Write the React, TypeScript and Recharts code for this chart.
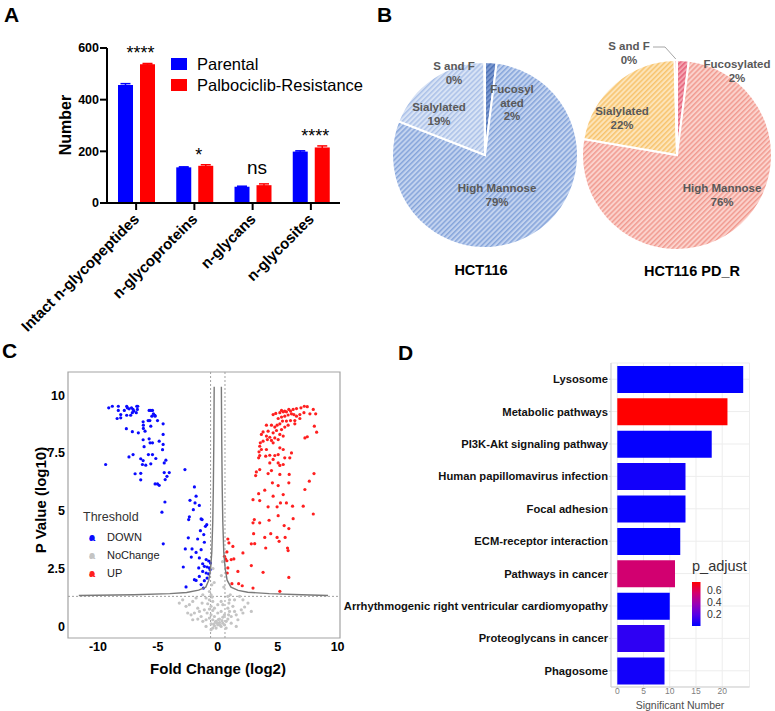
import React from "react"
import {
  BarChart,
  Bar,
  XAxis,
  YAxis,
  ErrorBar,
  LabelList,
  PieChart,
  Pie,
  Cell,
  ScatterChart,
  Scatter,
  ReferenceLine,
  ReferenceArea,
  CartesianGrid,
} from "recharts"

const FONT = '"Liberation Sans", Arial, Helvetica, sans-serif'

// ---- A: glyco counts ----
const categoriesA = ["Intact n-glycopeptides", "n-glycoproteins", "n-glycans", "n-glycosites"]
const parental = [457, 138, 63, 199]
const parentalErr = [5, 2, 2, 3]
const resistant = [537, 144, 69, 215]
const resistantErr = [3, 4, 5, 6]
const significance = ["****", "*", "ns", "****"]

// ---- B: glycan type pies ----
const glycanTypes = ["Fucosylated", "High Mannose", "Sialylated", "S and F"]
const hctValues = [2, 79, 19, 0.1]
const pdrValues = [2, 76, 22, 0.4]

// ---- C: volcano (log2 FC, -log10 p) ----
const downPoints = [
  [-9.1, 9.45], [-8.8, 9.52], [-8.3, 9.52], [-8.3, 9.34], [-8.1, 9.16], [-8.4, 8.99], [-8.1, 9.02], [-7.8, 9.34],
  [-7.6, 9.52], [-7.55, 9.45], [-7.4, 9.41], [-7.2, 9.45], [-7.07, 9.38], [-7.0, 9.31], [-7.13, 9.24], [-6.76, 9.52],
  [-6.68, 9.52], [-6.71, 9.38], [-6.8, 9.24], [-7.27, 9.13], [-7.6, 9.13], [-5.73, 9.34], [-5.59, 9.34], [-5.45, 9.34],
  [-5.37, 9.19], [-5.25, 9.13], [-5.5, 9.09], [-5.23, 9.09], [-5.81, 8.9], [-5.67, 8.9], [-6.23, 8.85], [-6.21, 8.7],
  [-5.59, 8.66], [-5.03, 8.9], [-4.56, 8.76], [-6.21, 8.56], [-6.07, 8.44], [-7.63, 8.55], [-7.13, 8.42], [-6.63, 8.37],
  [-4.56, 8.3], [-6.23, 8.07], [-5.73, 8.11], [-5.65, 7.94], [-5.45, 7.94], [-4.89, 8.01], [-4.56, 7.87], [-6.15, 7.77],
  [-4.61, 7.64], [-5.79, 7.43], [-5.45, 7.43], [-7.07, 7.43], [-7.41, 7.33], [-6.43, 7.25], [-6.23, 7.17], [-5.17, 7.26],
  [-4.33, 7.19], [-4.47, 7.07], [-6.29, 7.0], [-6.01, 6.97], [-5.59, 7.03], [-9.36, 7.0], [-6.9, 6.6], [-6.43, 6.62],
  [-4.47, 6.65], [-4.05, 6.65], [-4.24, 6.49], [-6.43, 6.34], [-5.23, 6.16], [-5.03, 6.16], [-4.89, 6.1], [-4.39, 6.35],
  [-2.74, 6.78], [-4.41, 5.38], [-4.66, 4.94], [-4.55, 3.57],
  [-1.95, 6.03], [-1.81, 5.63], [-2.32, 5.45], [-1.9, 5.34], [-1.54, 5.23], [-2.04, 5.05], [-2.37, 4.74], [-2.43, 4.62],
  [-1.39, 4.65], [-1.31, 4.62], [-0.92, 4.4], [-1.03, 4.33], [-1.45, 4.14], [-1.17, 3.97], [-2.46, 3.83], [-1.68, 3.78],
  [-1.12, 3.64], [-2.71, 3.35], [-2.15, 3.35], [-1.81, 3.2], [-1.39, 3.32], [-2.21, 3.0], [-1.54, 2.96], [-0.97, 2.89],
  [-0.76, 2.83], [-0.61, 2.74], [-1.26, 2.71], [-1.12, 2.6], [-0.89, 2.57], [-0.7, 2.53], [-1.59, 2.53], [-2.88, 2.57],
  [-1.26, 2.38], [-0.97, 2.31], [-0.76, 2.27], [-1.54, 2.16], [-1.95, 2.02], [-1.81, 1.99], [-1.12, 1.98], [-1.39, 1.81],
  [-2.65, 1.71], [-1.2, 1.66], [-0.89, 2.09], [-0.64, 2.45],
]
const upPoints = [
  [7.22, 9.52], [7.47, 9.5], [6.94, 9.45], [6.57, 9.42], [6.29, 9.38], [5.93, 9.38], [6.07, 9.31], [5.73, 9.28],
  [5.59, 9.31], [5.32, 9.34], [5.46, 9.28], [5.18, 9.24], [4.84, 9.21], [4.62, 9.16], [7.97, 9.38], [8.17, 9.19],
  [7.69, 9.19], [7.19, 9.24], [6.85, 9.16], [6.57, 9.09], [6.35, 9.16], [6.15, 9.19], [5.87, 9.14], [5.59, 9.09],
  [5.32, 9.05], [5.04, 8.99], [6.85, 8.99], [6.43, 8.9], [6.07, 8.9], [5.73, 8.88], [5.4, 8.88], [5.18, 8.76],
  [4.95, 8.7], [4.76, 8.62], [4.48, 8.7], [4.06, 8.7], [6.43, 8.76], [5.87, 8.7], [5.59, 8.62], [5.32, 8.51],
  [4.9, 8.47], [4.62, 8.37], [4.2, 8.44], [3.78, 8.41], [3.64, 8.3], [4.06, 8.23], [4.34, 8.18], [4.76, 8.15],
  [5.18, 8.3], [5.46, 8.23], [5.04, 8.08], [4.48, 8.04], [4.14, 8.08], [3.78, 8.01], [3.55, 7.94], [3.5, 7.79],
  [3.64, 7.65], [3.44, 7.55], [4.06, 7.65], [4.62, 7.94], [5.18, 7.72], [5.46, 7.65], [5.04, 7.43], [4.76, 7.39],
  [4.34, 7.4], [4.0, 7.36], [3.5, 7.39], [3.41, 7.29], [6.15, 7.5], [6.01, 7.29], [5.59, 7.29], [4.62, 7.22],
  [4.34, 7.07], [5.04, 7.07], [5.18, 6.96], [5.46, 7.0], [7.27, 8.15], [7.47, 8.2], [8.06, 8.66], [8.25, 8.4],
  [3.5, 6.78], [3.22, 6.68], [3.16, 6.52], [4.2, 6.61], [4.48, 6.74], [5.18, 6.57], [5.96, 6.57], [8.03, 6.61],
  [4.56, 6.21], [5.04, 6.09], [5.93, 6.21], [7.64, 6.28], [3.92, 5.89], [3.41, 5.74], [2.94, 5.48], [3.5, 5.44],
  [4.62, 5.63], [5.46, 5.7], [5.23, 5.34], [5.73, 5.34], [7.27, 5.92],
  [4.2, 5.17], [4.95, 5.17], [6.24, 5.2], [7.13, 5.2], [7.97, 4.86], [5.04, 4.79], [4.28, 4.59], [3.05, 4.62],
  [2.94, 4.48], [3.5, 4.48], [6.29, 4.66], [5.54, 4.36], [5.93, 4.23], [2.99, 4.01], [4.42, 4.01], [3.92, 3.85],
  [4.95, 3.85], [5.62, 3.85], [5.12, 3.68], [3.08, 3.58], [2.8, 3.57], [4.0, 3.39], [5.82, 3.39], [5.87, 3.28],
  [0.84, 3.78], [0.93, 3.61], [1.26, 3.46], [0.76, 3.22], [2.1, 3.18], [0.56, 3.03], [0.65, 2.92], [0.76, 2.84],
  [1.12, 2.89], [1.34, 2.92], [2.8, 2.63], [0.84, 2.53], [1.68, 2.38], [3.78, 2.34], [0.79, 2.31], [5.93, 2.12],
  [1.18, 1.85], [1.74, 1.85], [2.04, 1.76], [2.94, 1.66], [5.18, 1.52],
]
const noChangePoints = [
  [-0.7, 1.51], [-0.56, 1.37], [-0.47, 1.27], [-0.7, 1.15], [-0.42, 1.08], [-0.84, 0.98], [-0.56, 0.87], [-0.7, 0.75],
  [-0.42, 0.69], [-0.89, 0.58], [-0.56, 0.5], [-0.28, 0.43], [-0.7, 0.36], [-0.98, 0.29], [-0.42, 0.29], [-0.14, 0.22],
  [0.14, 0.17], [0.42, 0.14], [0.0, 0.07], [-0.28, 0.03], [-0.56, 0.11], [0.28, 0.0], [0.56, 0.07], [0.7, 0.22],
  [0.84, 0.32], [0.9, 0.5], [0.98, 0.65], [0.84, 0.79], [0.93, 1.01], [0.98, 1.15], [0.84, 1.3], [1.04, 1.37],
  [1.26, 0.87], [1.4, 0.65], [1.54, 0.5], [1.12, 0.43], [1.68, 0.29], [1.96, 0.72], [2.24, 0.84], [2.1, 0.58],
  [-1.81, 1.23], [-2.09, 1.08], [-2.37, 0.94], [-2.65, 0.87], [-1.67, 0.79], [-1.53, 0.65], [-1.95, 0.58], [-2.23, 0.5],
  [-1.39, 0.43], [-1.25, 0.22], [-1.67, 0.32], [-1.12, 0.72], [-0.98, 1.23], [-1.31, 1.01], [-2.93, 1.15], [-3.21, 1.01],
  [1.54, 0.0], [1.12, 0.14], [-0.98, 0.0], [-0.14, -0.07], [0.14, 0.32], [0.42, 0.4], [0.0, 0.58], [0.28, 0.65],
  [0.56, 0.5], [-0.28, 0.79], [0.0, 0.94], [0.28, 1.08], [0.42, 0.94], [-1.25, 1.37], [1.82, 1.3], [2.1, 1.15],
  [2.52, 1.01], [1.4, 1.15], [2.8, 0.65], [-2.51, 0.58], [-2.09, 0.29], [0.7, -0.07], [-0.56, -0.14], [-0.42, -0.07],
  [-0.3, 1.9], [0.3, 2.2], [-0.4, 2.5], [0.4, 2.8], [0.5, 1.7], [-0.5, 1.8], [0.1, 0.1], [-0.1, 0.15],
  [0.2, 0.05], [-0.2, 0.2], [0.05, 0.3], [0.35, 0.25], [-0.35, 0.1],
]
const curveLeft = [
  [-11.6, 1.34], [-7, 1.37], [-4, 1.42], [-2.6, 1.47], [-1.6, 1.57], [-1.0, 1.7], [-0.75, 2.0],
  [-0.6, 2.5], [-0.5, 3.2], [-0.42, 4.5], [-0.37, 6], [-0.33, 8], [-0.3, 10.36],
]
const curveRight = [
  [0.3, 10.36], [0.33, 8], [0.37, 6], [0.42, 4.5], [0.5, 3.2], [0.62, 2.5], [0.78, 2.0],
  [1.1, 1.7], [1.7, 1.56], [2.5, 1.48], [4.3, 1.42], [7, 1.37], [9.2, 1.34],
]

// ---- D: KEGG enrichment ----
const pathways = [
  "Lysosome",
  "Metabolic pathways",
  "PI3K-Akt signaling pathway",
  "Human papillomavirus infection",
  "Focal adhesion",
  "ECM-receptor interaction",
  "Pathways in cancer",
  "Arrhythmogenic right ventricular cardiomyopathy",
  "Proteoglycans in cancer",
  "Phagosome",
]
const sigNumber = [24, 21, 18, 13, 13, 12, 11, 10, 9, 9]
const pAdjust = [0.005, 0.74, 0.01, 0.04, 0.02, 0.01, 0.55, 0.005, 0.1, 0.04]

// colour helpers
const gradStops: [number, string][] = [
  [0, "#0000ff"],
  [0.25, "#5500e8"],
  [0.5, "#9a00b5"],
  [0.75, "#d4006e"],
  [1, "#ff0000"],
]
function hexToRgb(h: string) {
  return [1, 3, 5].map((i) => parseInt(h.slice(i, i + 2), 16))
}
function pColor(p: number) {
  const t = Math.max(0, Math.min(1, p / 0.74))
  for (let i = 1; i < gradStops.length; i++) {
    const [t1, c1] = gradStops[i]
    const [t0, c0] = gradStops[i - 1]
    if (t <= t1) {
      const f = (t - t0) / (t1 - t0)
      const a = hexToRgb(c0)
      const b = hexToRgb(c1)
      const rgb = a.map((v, k) => Math.round(v + (b[k] - v) * f))
      return `rgb(${rgb.join(",")})`
    }
  }
  return "#ff0000"
}

const dataA = categoriesA.map((name, i) => ({
  name,
  parental: parental[i],
  parentalErr: parentalErr[i],
  resistant: resistant[i],
  resistantErr: resistantErr[i],
  sig: significance[i],
}))
const hctData = glycanTypes.map((name, i) => ({ name, value: hctValues[i] }))
const pdrData = glycanTypes.map((name, i) => ({ name, value: pdrValues[i] }))
const toXY = (arr: number[][]) => arr.map(([x, y]) => ({ x, y }))
const dataD = pathways.map((name, i) => ({ name, value: sigNumber[i], p: pAdjust[i] }))

function RotatedTick({ x, y, payload }: any) {
  const px = x + 4
  const py = y + 8
  return (
    <text
      x={px}
      y={py}
      transform={`rotate(-45 ${px} ${py})`}
      textAnchor="end"
      fontSize={15}
      fontWeight="bold"
      fill="#000"
      fontFamily={FONT}
    >
      {payload.value}
    </text>
  )
}

function SigLabel(props: any) {
  const { x, y, width, value } = props
  const ns = value === "ns"
  return (
    <text
      x={x + width / 2 - 7}
      y={y - (ns ? 11 : 5)}
      textAnchor="middle"
      fontSize={ns ? 19 : 18}
      fill="#000"
      fontFamily={FONT}
    >
      {value}
    </text>
  )
}

function Hatch({ id, bg, fg }: { id: string; bg: string; fg: string }) {
  return (
    <pattern id={id} width={3.6} height={3.6} patternUnits="userSpaceOnUse" patternTransform="rotate(45)">
      <rect width={3.6} height={3.6} fill={bg} />
      <rect width={1.5} height={3.6} fill={fg} />
    </pattern>
  )
}

const hctFills = ["url(#hFuc)", "url(#hHM)", "url(#hSia)", "url(#hSF)"]
const pdrFills = ["url(#pFuc)", "url(#pHM)", "url(#pSia)", "url(#pSF)"]

function makePieLabel(lines: string[][], offsets: number[][], values: number[], leader: number) {
  return (props: any) => {
    const { cx, cy, index, midAngle, outerRadius } = props
    const [dx, dy] = offsets[index]
    const rows = [...lines[index], `${Math.round(values[index])}%`]
    const rad = (-midAngle * Math.PI) / 180
    const ex = cx + (outerRadius + 1) * Math.cos(rad)
    const ey = cy + (outerRadius + 1) * Math.sin(rad)
    return (
      <g>
        {index === leader && (
          <polyline
            points={`${cx + dx + 24},${cy + dy - 3} ${cx + dx + 36},${cy + dy - 3} ${ex},${ey}`}
            fill="none"
            stroke="#a6a6a6"
            strokeWidth={1}
          />
        )}
        {rows.map((r, k) => (
          <text
            key={k}
            x={cx + dx}
            y={cy + dy + k * 13.5}
            textAnchor="middle"
            fontSize={11.5}
            fontWeight="bold"
            fill="#595959"
            fontFamily={FONT}
          >
            {r}
          </text>
        ))}
      </g>
    )
  }
}

const hctLabel = makePieLabel(
  [["Fucosyl", "ated"], ["High Mannose"], ["Sialylated"], ["S and F"]],
  [[27, -62], [12, 37], [-46, -44], [-31, -85]],
  hctValues,
  -1
)
const pdrLabel = makePieLabel(
  [["Fucosylated"], ["High Mannose"], ["Sialylated"], ["S and F"]],
  [[60, -87], [45, 37], [-55, -40], [-48, -105]],
  pdrValues,
  3
)

function PathTick({ x, y, payload }: any) {
  return (
    <text x={x} y={y} dy={4} textAnchor="end" fontSize={11.2} fontWeight="bold" fill="#111" fontFamily={FONT}>
      {payload.value}
    </text>
  )
}

const dot = (color: string, r: number) => (p: any) => <circle cx={p.cx} cy={p.cy} r={r} fill={color} />
const noShape = () => <g />

export default function App() {
  return (
    <div
      style={{
        position: "absolute",
        left: 0,
        top: 0,
        width: 775,
        height: 711,
        overflow: "hidden",
        background: "#fff",
        fontFamily: FONT,
      }}
    >
      <svg width={0} height={0} style={{ position: "absolute" }}>
        <defs>
          <Hatch id="hHM" bg="#c3d3ef" fg="#86a5db" />
          <Hatch id="hSia" bg="#d8e3f5" fg="#abc1e8" />
          <Hatch id="hFuc" bg="#7d9ad0" fg="#4f73b8" />
          <Hatch id="hSF" bg="#9db5e0" fg="#7b9ad2" />
          <Hatch id="pHM" bg="#fbd2cc" fg="#f19b91" />
          <Hatch id="pSia" bg="#fde4b8" fg="#f7c46e" />
          <Hatch id="pFuc" bg="#f4a3b0" fg="#e5607a" />
          <Hatch id="pSF" bg="#f7b9c2" fg="#ec8596" />
        </defs>
      </svg>

      {/* A */}
      <div style={{ position: "absolute", left: 0, top: 0 }}>
        <BarChart
          width={375}
          height={335}
          data={dataA}
          margin={{ top: 48, right: 35, bottom: 7, left: 0 }}
          barSize={15}
          barGap={7}
        >
          <XAxis
            dataKey="name"
            height={125}
            interval={0}
            tick={<RotatedTick />}
            tickSize={7}
            axisLine={{ stroke: "#000", strokeWidth: 2 }}
            tickLine={{ stroke: "#000", strokeWidth: 2 }}
          />
          <YAxis
            width={107}
            domain={[0, 600]}
            ticks={[0, 200, 400, 600]}
            tickSize={7}
            tickMargin={1}
            axisLine={{ stroke: "#000", strokeWidth: 2 }}
            tickLine={{ stroke: "#000", strokeWidth: 2 }}
            tick={{ fontSize: 12.5, fontWeight: "bold", fill: "#000", fontFamily: FONT }}
          />
          <Bar dataKey="parental" fill="#0000ff" isAnimationActive={false}>
            <ErrorBar dataKey="parentalErr" width={5} strokeWidth={1.5} stroke="#0000ff" />
          </Bar>
          <Bar dataKey="resistant" fill="#ff0000" isAnimationActive={false}>
            <ErrorBar dataKey="resistantErr" width={5} strokeWidth={1.5} stroke="#ff0000" />
            <LabelList dataKey="sig" content={<SigLabel />} />
          </Bar>
        </BarChart>
      </div>

      {/* B */}
      <div style={{ position: "absolute", left: 380, top: 0 }}>
        <PieChart width={395} height={300}>
          <Pie
            data={hctData}
            dataKey="value"
            nameKey="name"
            cx={100}
            cy={150}
            outerRadius={93}
            startAngle={90}
            endAngle={-270}
            stroke="#fff"
            strokeWidth={2}
            label={hctLabel}
            labelLine={false}
            isAnimationActive={false}
          >
            {hctData.map((d, i) => (
              <Cell key={d.name} fill={hctFills[i]} />
            ))}
          </Pie>
          <Pie
            data={pdrData}
            dataKey="value"
            nameKey="name"
            cx={292}
            cy={150}
            outerRadius={95}
            startAngle={90}
            endAngle={-270}
            stroke="#fff"
            strokeWidth={2}
            label={pdrLabel}
            labelLine={false}
            isAnimationActive={false}
          >
            {pdrData.map((d, i) => (
              <Cell key={d.name} fill={pdrFills[i]} />
            ))}
          </Pie>
        </PieChart>
      </div>

      {/* C */}
      <div style={{ position: "absolute", left: 0, top: 330 }}>
        <ScatterChart width={350} height={381} margin={{ top: 42, right: 10, bottom: 48, left: 0 }}>
          <XAxis
            type="number"
            dataKey="x"
            domain={[-12.5, 10.2]}
            ticks={[-10, -5, 0, 5, 10]}
            height={25}
            axisLine={false}
            tickLine={false}
            tickSize={2}
            tickMargin={2}
            tick={{ fontSize: 12.5, fontWeight: "bold", fill: "#000", fontFamily: FONT }}
          />
          <YAxis
            type="number"
            dataKey="y"
            domain={[-0.5, 11]}
            ticks={[0, 2.5, 5, 7.5, 10]}
            width={68}
            axisLine={false}
            tickLine={false}
            tickSize={2}
            tickMargin={1}
            tick={{ fontSize: 12.5, fontWeight: "bold", fill: "#000", fontFamily: FONT }}
          />
          <ReferenceArea x1={-12.5} x2={10.2} y1={-0.5} y2={11} fill="none" stroke="#a3a3a3" strokeWidth={1.2} />
          <ReferenceLine x={-0.6} stroke="#a0a0a0" strokeDasharray="2 2" />
          <ReferenceLine x={0.6} stroke="#a0a0a0" strokeDasharray="2 2" />
          <ReferenceLine y={1.3} stroke="#a0a0a0" strokeDasharray="2 2" />
          <Scatter data={toXY(noChangePoints)} shape={dot("#c4c4c4", 1.6)} isAnimationActive={false} />
          <Scatter data={toXY(downPoints)} shape={dot("#0a0aff", 1.6)} isAnimationActive={false} />
          <Scatter data={toXY(upPoints)} shape={dot("#ff1f1f", 1.6)} isAnimationActive={false} />
          <Scatter
            data={toXY(curveLeft)}
            line={{ stroke: "#7a7a7a", strokeWidth: 1.4 }}
            shape={noShape}
            isAnimationActive={false}
          />
          <Scatter
            data={toXY(curveRight)}
            line={{ stroke: "#7a7a7a", strokeWidth: 1.4 }}
            shape={noShape}
            isAnimationActive={false}
          />
        </ScatterChart>
      </div>

      {/* D */}
      <div style={{ position: "absolute", left: 330, top: 330 }}>
        <BarChart
          layout="vertical"
          width={445}
          height={381}
          data={dataD}
          margin={{ top: 33, right: 25.5, bottom: 10, left: 0 }}
          barCategoryGap="9%"
        >
          <CartesianGrid stroke="#ededed" />
          <XAxis
            type="number"
            domain={[-1.2, 25.2]}
            ticks={[0, 5, 10, 15, 20]}
            height={14}
            tickSize={1}
            tickMargin={0}
            axisLine={{ stroke: "#cfcfcf" }}
            tickLine={{ stroke: "#cfcfcf" }}
            tick={{ fontSize: 8.5, fill: "#808080", fontFamily: FONT }}
          />
          <YAxis
            type="category"
            dataKey="name"
            width={281}
            interval={0}
            tickSize={2}
            tickMargin={1}
            axisLine={{ stroke: "#cfcfcf" }}
            tickLine={{ stroke: "#cfcfcf" }}
            tick={<PathTick />}
          />
          <Bar dataKey="value" isAnimationActive={false}>
            {dataD.map((d) => (
              <Cell key={d.name} fill={pColor(d.p)} />
            ))}
          </Bar>
        </BarChart>
      </div>

      {/* annotations */}
      <svg
        width={775}
        height={711}
        style={{ position: "absolute", left: 0, top: 0, pointerEvents: "none" }}
        fontFamily={FONT}
      >
        <defs>
          <linearGradient id="padj" x1="0" y1="1" x2="0" y2="0">
            {gradStops.map(([t, c]) => (
              <stop key={t} offset={`${t * 100}%`} stopColor={c} />
            ))}
          </linearGradient>
        </defs>
        <text x={4} y={22} fontSize={21} fontWeight="bold">A</text>
        <text x={377} y={22} fontSize={21} fontWeight="bold">B</text>
        <text x={2} y={358} fontSize={21} fontWeight="bold">C</text>
        <text x={398} y={360} fontSize={21} fontWeight="bold">D</text>

        {/* A extras */}
        <text x={71} y={125} transform="rotate(-90 71 125)" textAnchor="middle" fontSize={16} fontWeight="bold">
          Number
        </text>
        <rect x={171} y={58} width={16} height={12} fill="#0000ff" />
        <text x={197} y={70} fontSize={16.5}>Parental</text>
        <rect x={171} y={79} width={16} height={12} fill="#ff0000" />
        <text x={197} y={91} fontSize={16.5}>Palbociclib-Resistance</text>

        {/* B titles */}
        <text x={481} y={275} textAnchor="middle" fontSize={14.5} fontWeight="bold">HCT116</text>
        <text x={692} y={276} textAnchor="middle" fontSize={14.5} fontWeight="bold">HCT116 PD_R</text>

        {/* C extras */}
        <text x={46} y={500} transform="rotate(-90 46 500)" textAnchor="middle" fontSize={15} fontWeight="bold">
          P Value  (log10)
        </text>
        <text x={218} y={674} textAnchor="middle" fontSize={15} fontWeight="bold">Fold Change (log2)</text>
        <text x={83} y={521} fontSize={12.5} fill="#333">Threshold</text>
        {[
          ["DOWN", "#0a0aff", 537],
          ["NoChange", "#c4c4c4", 555],
          ["UP", "#ff1f1f", 573],
        ].map(([t, c, y]) => (
          <g key={t as string}>
            <circle cx={92} cy={(y as number) + 1} r={2.5} fill={c as string} />
            <text x={92} y={(y as number) + 4} textAnchor="middle" fontSize={11} fontWeight="bold" fill={c as string}>
              a
            </text>
            <text x={107} y={(y as number) + 4} fontSize={11} fill="#222">
              {t}
            </text>
          </g>
        ))}

        {/* D extras */}
        <text x={680} y={709} textAnchor="middle" fontSize={10.5} fill="#4d4d4d">Significant Number</text>
        <text x={692} y={571} fontSize={14.5} fill="#333">p_adjust</text>
        <rect x={692} y={582} width={8.5} height={44} fill="url(#padj)" />
        <text x={707} y={594} fontSize={10.5} fill="#333">0.6</text>
        <text x={707} y={606} fontSize={10.5} fill="#333">0.4</text>
        <text x={707} y={618} fontSize={10.5} fill="#333">0.2</text>
      </svg>
    </div>
  )
}
